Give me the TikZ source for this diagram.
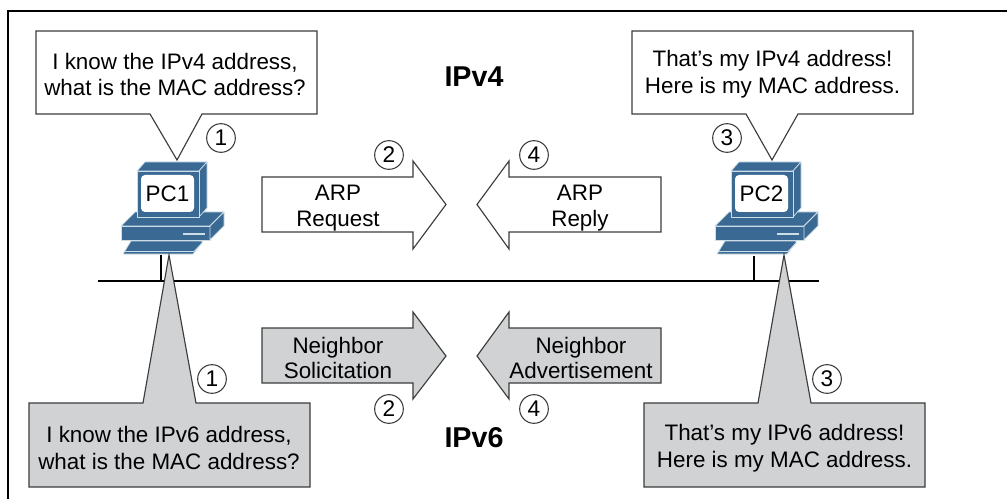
\documentclass[tikz,border=0pt]{standalone}
\usepackage{fontspec}
\setmainfont{Liberation Sans}
\definecolor{pcblue}{RGB}{58,106,148}
\definecolor{pcedge}{RGB}{205,222,232}
\definecolor{boxgray}{RGB}{208,210,211}
\definecolor{boxedge}{RGB}{60,60,60}
\tikzset{
	msgbox/.style={draw=boxedge,line width=0.85pt,line join=miter},
	lantext/.style={inner sep=0pt,align=center,font=\fontsize{16.8}{20}\selectfont},
	arrowtext/.style={inner sep=0pt,align=center,font=\fontsize{16.8}{19}\selectfont},
	steptext/.style={draw=boxedge,circle,line width=0.8pt,minimum size=21.5pt,inner sep=0pt,font=\fontsize{17}{18}\selectfont},
	titletext/.style={inner sep=0pt,font=\fontsize{21.5}{22}\selectfont\bfseries},
	wire/.style={line width=1.9pt,black},
	pcpart/.style={fill=pcblue,draw=pcedge,line width=0.55pt,line join=round},
}
% #1 shift, #2 node name, #3 label
\newcommand{\drawcomputer}[3]{
	\begin{scope}[xshift=#1*0.75pt]
		%Shape: Keyboard
		\draw [pcpart] (131,241) -- (202,241) -- (202,243) -- (193,254) -- (123,254) -- cycle ;
		\draw [pcedge,line width=0.55pt] (125,251.5) -- (194,251.5) -- (202,243) ;
		%Shape: Base
		\draw [pcpart] (135,212) -- (224,212) -- (210,226) -- (121,226) -- cycle ;
		\draw [pcpart] (121,226) -- (210,226) -- (210,240) -- (121,240) -- cycle ;
		\draw [pcpart] (210,226) -- (224,212) -- (224,226) -- (210,240) -- cycle ;
		\draw [pcedge,line width=1pt] (183,234) -- (205,234) ;
		%Shape: Monitor
		\draw [pcpart] (145,162) -- (207,162) -- (199,171) -- (137,171) -- cycle ;
		\draw [pcpart] (199,171) -- (207,162) -- (207,208) -- (199,217) -- cycle ;
		\draw [pcpart] (137,171) -- (199,171) -- (199,217) -- (137,217) -- cycle ;
		\draw [fill=white,draw=none,rounded corners=3pt] (141,175) rectangle (194,212) ;
		% Text Node
		\node (#2) at (167.5,194) [lantext] {#3};
	\end{scope}
}
\begin{document}
\begin{tikzpicture}[x=0.75pt,y=0.75pt,yscale=-1,xscale=1]
	\useasboundingbox (0,0) rectangle (1007,499);

	%Straight Lines: frame
	\coordinate (framebottom) at (8,499);
	\coordinate (framecorner) at (8,11);
	\coordinate (frameright) at (1007,11);
	\draw [line width=1.8pt,black,line join=miter] (framebottom) -- (framecorner) -- (frameright) ;

	%Shape: computers
	\drawcomputer{0}{pcone}{PC1}
	\drawcomputer{594}{pctwo}{PC2}

	%Straight Lines: LAN
	\coordinate (lanleft) at (98,281);
	\coordinate (lanright) at (819,281);
	\coordinate (dropone) at (161,255);
	\coordinate (droptwo) at (754,256);
	\coordinate (tapone) at (161,281);
	\coordinate (taptwo) at (754,281);
	\draw [wire] (lanleft) -- (lanright) ;
	\draw [wire] (dropone) -- (tapone) ;
	\draw [wire] (droptwo) -- (taptwo) ;

	%Shape: Callouts
	\draw [msgbox,fill=white] (36,31) -- (317,31) -- (317,114) -- (202,114) -- (177,160) -- (150,114) -- (36,114) -- cycle ;
	\draw [msgbox,fill=white] (632,31) -- (913,31) -- (913,114) -- (798,114) -- (772,160) -- (746,114) -- (632,114) -- cycle ;
	\draw [msgbox,fill=boxgray] (29,403) -- (143,403) -- (169,255) -- (196,403) -- (310,403) -- (310,487) -- (29,487) -- cycle ;
	\draw [msgbox,fill=boxgray] (644,403) -- (758,403) -- (784,255) -- (811,403) -- (925,403) -- (925,487) -- (644,487) -- cycle ;

	%Shape: Arrows
	\draw [msgbox,fill=white] (262,177) -- (413,177) -- (413,161) -- (446,204.5) -- (413,249) -- (413,232) -- (262,232) -- cycle ;
	\draw [msgbox,fill=white] (661,177) -- (509,177) -- (509,161) -- (477,204.5) -- (509,249) -- (509,232) -- (661,232) -- cycle ;
	\draw [msgbox,fill=boxgray] (262,328) -- (413,328) -- (413,312) -- (446,356) -- (413,399) -- (413,383) -- (262,383) -- cycle ;
	\draw [msgbox,fill=boxgray] (661,328) -- (509,328) -- (509,312) -- (477,356) -- (509,399) -- (509,383) -- (661,383) -- cycle ;

	% Text Node
	\node (askfour) at (175,74.5) [lantext] {I know the IPv4 address,\\what is the MAC address?};
	\node (tellfour) at (772.5,74.5) [lantext] {That’s my IPv4 address!\\Here is my MAC address.};
	\node (asksix) at (169,448) [lantext] {I know the IPv6 address,\\what is the MAC address?};
	\node (tellsix) at (784.5,448) [lantext] {That’s my IPv6 address!\\Here is my MAC address.};
	\node (arpreq) at (338,208) [arrowtext] {ARP\\Request};
	\node (arprep) at (580,208) [arrowtext] {ARP\\Reply};
	\node (neighsol) at (338,358) [arrowtext] {Neighbor\\Solicitation};
	\node (neighadv) at (581,358) [arrowtext] {Neighbor\\Advertisement};
	\node (titlefour) at (474,77) [titletext] {IPv4};
	\node (titlesix) at (474,438) [titletext] {IPv6};

	% Text Node: steps
	\node (stepa) at (221,138) [steptext] {1};
	\node (stepb) at (389,155) [steptext] {2};
	\node (stepc) at (727,138) [steptext] {3};
	\node (stepd) at (534,155) [steptext] {4};
	\node (stepe) at (212,379) [steptext] {1};
	\node (stepf) at (389,409) [steptext] {2};
	\node (stepg) at (827,379) [steptext] {3};
	\node (steph) at (534,409) [steptext] {4};
\end{tikzpicture}
\end{document}
